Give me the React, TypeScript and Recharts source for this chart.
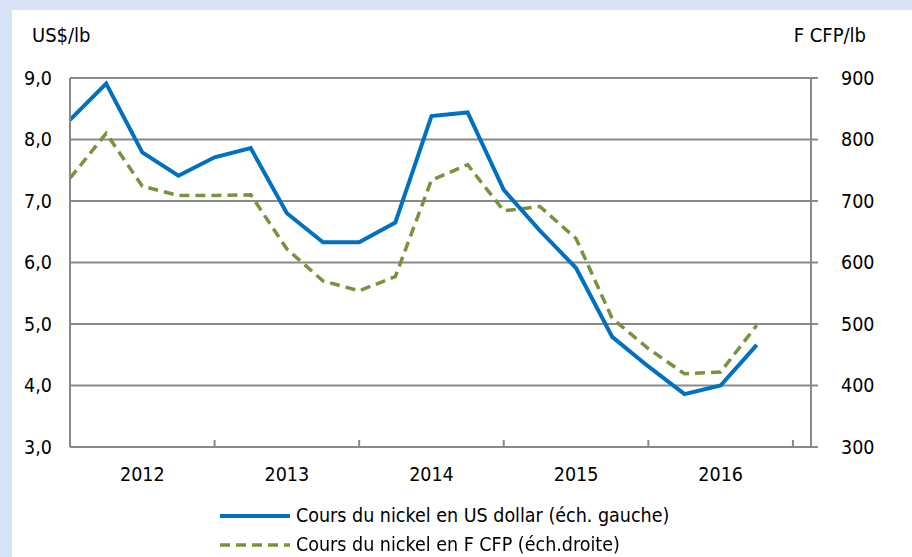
import { LineChart, Line, XAxis, YAxis, CartesianGrid } from 'recharts';

const years = ['2012', '2013', '2014', '2015', '2016'];
const usdPrice = [8.32, 8.91, 7.79, 7.41, 7.71, 7.86, 6.8, 6.33, 6.33, 6.65, 8.38, 8.44, 7.18, 6.52, 5.91, 4.79, 4.31, 3.86, 4.0, 4.66];
const xpfPrice = [737, 810, 724, 709, 709, 710, 622, 570, 554, 577, 734, 759, 684, 691, 639, 509, 460, 419, 422, 498];
const leftTicks = [3, 4, 5, 6, 7, 8, 9];
const rightTicks = [300, 400, 500, 600, 700, 800, 900];

const data = usdPrice.map((v, i) => ({ q: i, usd: v, xpf: xpfPrice[i] }));
// year labels sit mid-year, tick marks at year boundaries
const xTicks = years.flatMap((_, i) => [i * 4 + 2, i * 4 + 4]);

const FONT = '"DejaVu Sans Condensed", "Noto Sans", sans-serif';
const FS = 19.5;
const GRID = '#898989';
const BLUE = '#0070c0';
const GREEN = '#77933c';

function YearTick({ x, y, payload }: { x: number; y: number; payload: { value: number } }) {
  const v = payload.value;
  if (v % 4 === 0) {
    const axisY = y - 8;
    return <line x1={x} x2={x} y1={axisY} y2={axisY - 7} stroke={GRID} strokeWidth={2} />;
  }
  return (
    <text x={x} y={y + 26} textAnchor="middle" fill="#000" fontSize={FS} fontFamily={FONT}>
      {years[(v - 2) / 4]}
    </text>
  );
}

export default function App() {
  return (
    <div style={{ position: 'fixed', left: 0, top: 0, width: 912, height: 557, background: '#d5e3f4' }}>
      <div style={{ position: 'absolute', left: 12, top: 10, width: 900, height: 547, background: '#fff', fontFamily: FONT, color: '#000' }}>
        <div style={{ position: 'absolute', left: 20, top: 13, fontSize: 20 }}>US$/lb</div>
        <div style={{ position: 'absolute', right: 46, top: 13, fontSize: 20 }}>F CFP/lb</div>
        <LineChart width={900} height={547} data={data} margin={{ top: 68, right: 41, bottom: 70, left: 0 }}>
          <CartesianGrid yAxisId="left" horizontal vertical={false} stroke={GRID} strokeWidth={2} />
          <XAxis
            dataKey="q"
            type="number"
            domain={[0, 20.5]}
            ticks={xTicks}
            interval={0}
            tick={YearTick as never}
            tickLine={false}
            axisLine={{ stroke: GRID, strokeWidth: 2 }}
            height={40}
          />
          <YAxis
            yAxisId="left"
            domain={[3, 9]}
            ticks={leftTicks}
            interval={0}
            width={58}
            tickLine={false}
            tickSize={6}
            tickMargin={12}
            axisLine={{ stroke: GRID, strokeWidth: 2 }}
            tick={{ fill: '#000', fontSize: FS, fontFamily: FONT }}
            tickFormatter={(v: number) => v.toFixed(1).replace('.', ',')}
          />
          <YAxis
            yAxisId="right"
            orientation="right"
            domain={[300, 900]}
            ticks={rightTicks}
            interval={0}
            width={60}
            tickSize={7}
            tickMargin={23}
            tickLine={{ stroke: GRID, strokeWidth: 2 }}
            axisLine={{ stroke: GRID, strokeWidth: 2 }}
            tick={{ fill: '#000', fontSize: FS, fontFamily: FONT }}
          />
          <Line yAxisId="right" dataKey="xpf" type="linear" stroke={GREEN} strokeWidth={3.5} strokeDasharray="10 6" dot={false} activeDot={false} isAnimationActive={false} />
          <Line yAxisId="left" dataKey="usd" type="linear" stroke={BLUE} strokeWidth={4} dot={false} activeDot={false} isAnimationActive={false} />
        </LineChart>
        <div style={{ position: 'absolute', left: 208, top: 491, fontSize: FS, lineHeight: '29px' }}>
          <div style={{ display: 'flex', alignItems: 'center' }}>
            <svg width={70} height={6} style={{ marginRight: 6 }}>
              <line x1={0} x2={70} y1={3} y2={3} stroke={BLUE} strokeWidth={4} />
            </svg>
            Cours du nickel en US dollar (éch. gauche)
          </div>
          <div style={{ display: 'flex', alignItems: 'center' }}>
            <svg width={70} height={6} style={{ marginRight: 6 }}>
              <line x1={0} x2={70} y1={3} y2={3} stroke={GREEN} strokeWidth={3.5} strokeDasharray="10 6" />
            </svg>
            Cours du nickel en F CFP (éch.droite)
          </div>
        </div>
      </div>
    </div>
  );
}
